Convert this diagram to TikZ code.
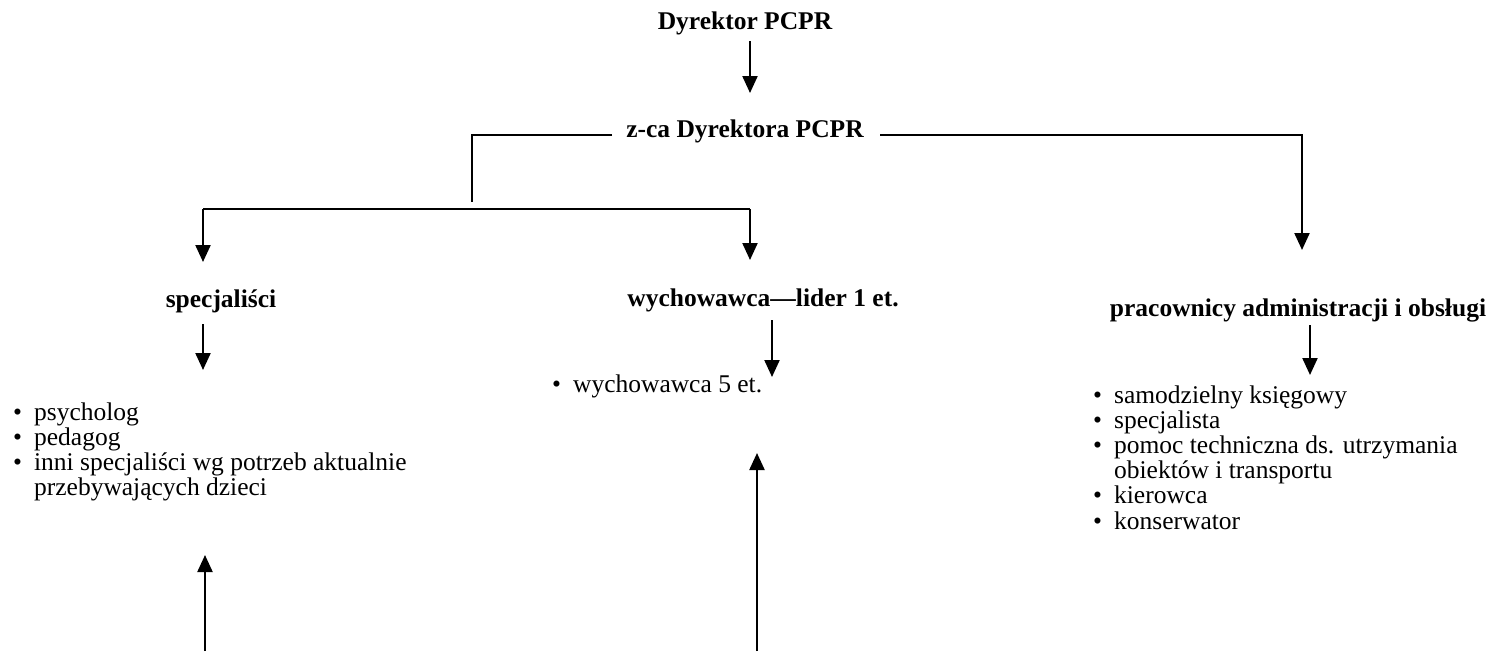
\documentclass[tikz,border=0pt]{standalone}
\usepackage{fontspec}
\setmainfont{Liberation Serif}
\usetikzlibrary{arrows.meta}
\tikzset{
  head/.style={inner sep=0pt, anchor=base, font=\fontsize{25.5}{25}\selectfont\bfseries},
  lst/.style={inner sep=0pt, anchor=base west, font=\fontsize{25.5}{25}\selectfont},
  conn/.style={line width=2.2pt, draw=black},
  arr/.style={conn, -{Triangle[width=15pt,length=17pt]}},
}
\newcommand{\blist}[1]{\begin{tabular}[t]{@{}l@{\hspace{12pt}}l@{}}#1\end{tabular}}
\begin{document}
\begin{tikzpicture}[x=1pt,y=-1pt]
\useasboundingbox (0,0) rectangle (1494,651);
\node[head] (dyr) at (745,29) {Dyrektor PCPR};
\node[head] (zca) at (745,137) {z-ca Dyrektora PCPR};
\node[head] (spec) at (221,307) {specjaliści};
\node[head] (wych) at (763,306) {wychowawca—lider 1 et.};
\node[head] (prac) at (1298,316) {pracownicy administracji i obsługi};

\node[lst] (speclist) at (13,420) {\blist{• & psycholog\\ • & pedagog\\ • & inni specjaliści wg potrzeb aktualnie\\ & przebywających dzieci}};
\node[lst] (wychlist) at (552,392) {\blist{• & wychowawca 5 et.}};
\node[lst] (praclist) at (1093,403) {\blist{• & samodzielny księgowy\\ • & specjalista\\ • & pomoc techniczna ds. utrzymania\\ & obiektów i transportu\\ • & kierowca\\ • & konserwator}};

% connectors
\draw[arr] (750,41) -- (750,93);
\coordinate (zl) at (612,135);
\coordinate (zr) at (880,135);
\coordinate (split) at (472,202);
\draw[conn] (zl) -- (472,135) -- (split);
\draw[arr] (zr) -- (1302,135) -- (1302,250);
\coordinate (hl) at (203,209);
\coordinate (hr) at (750,209);
\draw[conn] (hl) -- (hr);
\draw[arr] (hl) -- (203,262);
\draw[arr] (hr) -- (750,260);
\draw[arr] (203,324) -- (203,370);
\draw[arr] (772,320) -- (772,377);
\draw[arr] (1310,325) -- (1310,375);
\coordinate (b1) at (205,651);
\coordinate (b2) at (757,651);
\draw[arr] (b1) -- (205,555);
\draw[arr] (b2) -- (757,453);
\end{tikzpicture}
\end{document}
